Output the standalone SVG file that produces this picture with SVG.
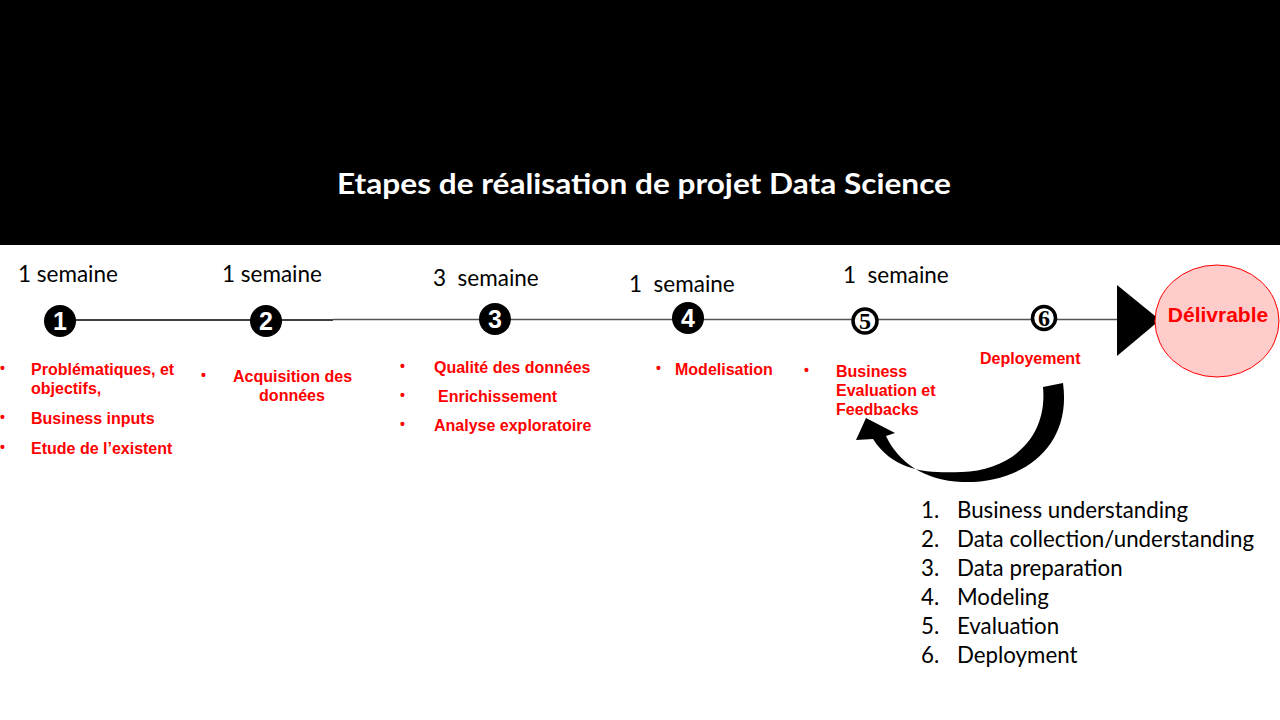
<svg xmlns="http://www.w3.org/2000/svg" width="1280" height="720" viewBox="0 0 1280 720">
<style>
.wk{font-family:Lato,"Open Sans",sans-serif;font-size:22.5px;fill:#000;white-space:pre}
.rd{font-family:"Liberation Sans",Arial,sans-serif;font-size:16px;font-weight:bold;fill:#ff0000}
.bl{font-family:"Liberation Sans",Arial,sans-serif;font-size:14px;font-weight:bold;fill:#ff0000}
.num{font-family:"Liberation Sans",Arial,sans-serif;font-size:25px;font-weight:bold;fill:#fff;text-anchor:middle}
.num2{font-family:"Liberation Serif","Times New Roman",serif;font-size:24px;font-weight:bold;fill:#000;text-anchor:middle}
.ls{font-family:Lato,"Open Sans",sans-serif;font-size:22.3px;fill:#000}
</style>
<rect x="0" y="0" width="1280" height="720" fill="#fff"/>
<rect x="0" y="0" width="1280" height="245" fill="#000"/>
<text x="644" y="194" text-anchor="middle" font-family="Lato,'Open Sans',sans-serif" font-size="29" font-weight="bold" fill="#fff" textLength="614" lengthAdjust="spacingAndGlyphs">Etapes de réalisation de projet Data Science</text>

<g id="connectors">
<line x1="60" y1="320" x2="333" y2="320" stroke="#000" stroke-width="1.3"/>
<line x1="333" y1="319.5" x2="1122" y2="319.5" stroke="#555" stroke-width="1.5"/>
<polygon points="1117,285 1117,356 1160,320" fill="#000"/>
<path d="M1043,387 L1063,383 C1072,447 1022,484 962,482 C925,481 898,462 886,436 L895,433 L866,418 L856,440 L873,439 C895,473 930,473 962,472 C1008,471 1048,440 1043,387 Z" fill="#000"/>
</g>

<g id="step1">
<text class="wk" x="18" y="282">1 semaine</text>
<circle cx="60" cy="321" r="16" fill="#000"/>
<text class="num" x="60" y="330">1</text>
<text class="bl" x="0" y="373">•</text>
<text class="rd" x="31" y="375">Problématiques, et</text>
<text class="rd" x="31" y="394">objectifs,</text>
<text class="bl" x="0" y="422">•</text>
<text class="rd" x="31" y="424">Business inputs</text>
<text class="bl" x="0" y="452">•</text>
<text class="rd" x="31" y="454">Etude de l’existent</text>
</g>

<g id="step2">
<text class="wk" x="222" y="282">1 semaine</text>
<circle cx="266" cy="321" r="16" fill="#000"/>
<text class="num" x="266" y="330">2</text>
<text class="bl" x="201" y="380">•</text>
<text class="rd" x="233" y="382">Acquisition des</text>
<text class="rd" x="292" y="401" text-anchor="middle">données</text>
</g>

<g id="step3">
<text class="wk" x="433" y="286" xml:space="preserve">3  semaine</text>
<circle cx="495" cy="319" r="16" fill="#000"/>
<text class="num" x="495" y="328">3</text>
<text class="bl" x="400" y="371">•</text>
<text class="rd" x="434" y="373">Qualité des données</text>
<text class="bl" x="400" y="400">•</text>
<text class="rd" x="438" y="402">Enrichissement</text>
<text class="bl" x="400" y="429">•</text>
<text class="rd" x="434" y="431">Analyse exploratoire</text>
</g>

<g id="step4">
<text class="wk" x="629" y="292" xml:space="preserve">1  semaine</text>
<circle cx="688" cy="318" r="16" fill="#000"/>
<text class="num" x="688" y="327">4</text>
<text class="bl" x="656" y="373">•</text>
<text class="rd" x="675" y="375">Modelisation</text>
</g>

<g id="step5">
<text class="wk" x="843" y="283" xml:space="preserve">1  semaine</text>
<circle cx="865" cy="321" r="12" fill="#fff" stroke="#000" stroke-width="3.5"/>
<text class="num2" x="865" y="329">5</text>
<text class="bl" x="804" y="375">•</text>
<text class="rd" x="836" y="377">Business</text>
<text class="rd" x="836" y="396">Evaluation et</text>
<text class="rd" x="836" y="415">Feedbacks</text>
</g>

<g id="step6">
<circle cx="1044" cy="318" r="11.5" fill="#fff" stroke="#000" stroke-width="3.5"/>
<text class="num2" x="1044" y="326">6</text>
<text class="rd" x="980" y="364">Deployement</text>
</g>

<g id="delivrable">
<ellipse cx="1217" cy="321" rx="62" ry="56" fill="#ffcccc" stroke="#ff0000" stroke-width="1"/>
<text x="1218" y="322" text-anchor="middle" font-family="'Liberation Sans',Arial,sans-serif" font-size="21" font-weight="bold" fill="#ff0000">Délivrable</text>
</g>

<g id="crisp-list">
<text class="ls" x="921" y="518">1.</text><text class="ls" x="957" y="518">Business understanding</text>
<text class="ls" x="921" y="547">2.</text><text class="ls" x="957" y="547">Data collection/understanding</text>
<text class="ls" x="921" y="576">3.</text><text class="ls" x="957" y="576">Data preparation</text>
<text class="ls" x="921" y="605">4.</text><text class="ls" x="957" y="605">Modeling</text>
<text class="ls" x="921" y="634">5.</text><text class="ls" x="957" y="634">Evaluation</text>
<text class="ls" x="921" y="663">6.</text><text class="ls" x="957" y="663">Deployment</text>
</g>
</svg>
